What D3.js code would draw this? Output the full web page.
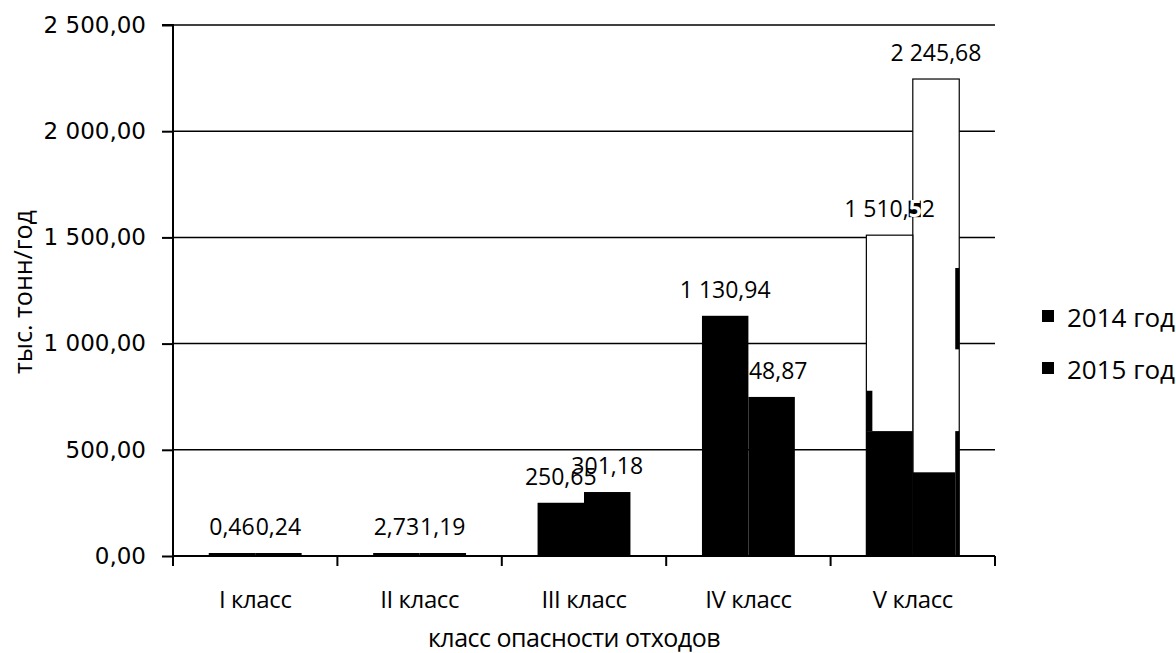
<!DOCTYPE html>
<html>
<head>
<meta charset="utf-8">
<script src="https://cdn.jsdelivr.net/npm/d3@7"></script>
<style>
  html, body { margin: 0; padding: 0; background: #fff; }
  svg { display: block; }
</style>
</head>
<body>
<svg id="chart" width="1176" height="653"></svg>
<script>
// ---------- DATA ----------
const categories = ["I класс", "II класс", "III класс", "IV класс", "V класс"];
const seriesNames = ["2014 год", "2015 год"];
const values2014 = [0.46, 2.73, 250.65, 1130.94, 1510.52];
const values2015 = [0.24, 1.19, 301.18, 748.87, 2245.68];
const yTickValues = [0, 500, 1000, 1500, 2000, 2500];
const xAxisTitle = "класс опасности отходов";
const yAxisTitle = "тыс. тонн/год";

// leftover dark fill fragments visible inside the V-class bars (value ranges)
const remnantSeries = ["2014 год", "2014 год", "2015 год", "2015 год", "2015 год"];
const remnantFrom   = [0, 588, 0, 0, 973];
const remnantTo     = [588, 778, 394, 588, 1356];
const remnantSide   = ["full", "left", "full", "right", "right"];

// ---------- LAYOUT / STYLE ----------
const plot = { left: 173, right: 995, top: 25, bottom: 556 };
const outlinedCategory = "V класс";
const highlight = { category: "V класс", series: "2014 год", charIndex: 6 };
const labelFont = "'Open Sans', sans-serif";
const tickFont = "'DejaVu Sans', Verdana, sans-serif";
const labelSize = 23;

const svg = d3.select("#chart");
const locale = d3.formatLocale({ decimal: ",", thousands: "\u00a0", grouping: [3], currency: ["", ""] });
const fmt = v => locale.format(",.2f")(v).replace(/\u00a0/g, " ");

const x = d3.scaleBand().domain(categories).range([plot.left, plot.right]).padding(0);
const xs = d3.scaleBand().domain(seriesNames).range([0, x.bandwidth()]).paddingInner(0).paddingOuter(0.77);
const y = d3.scaleLinear().domain([0, 2500]).range([plot.bottom, plot.top]);

const data = seriesNames.map((s, si) => ({
  name: s,
  values: categories.map((c, ci) => ({ cat: c, series: s, value: (si === 0 ? values2014 : values2015)[ci] }))
}));

// gridlines
svg.append("g").selectAll("line").data(yTickValues.filter(v => v > 0)).join("line")
  .attr("x1", plot.left).attr("x2", plot.right)
  .attr("y1", d => y(d)).attr("y2", d => y(d))
  .attr("stroke", "#000").attr("stroke-width", 1.5);

// y axis
const yAxis = d3.axisLeft(y).tickValues(yTickValues).tickSize(11).tickPadding(16).tickFormat(fmt);
const yg = svg.append("g").attr("transform", `translate(${plot.left},0)`).call(yAxis);
yg.select(".domain").attr("stroke", "#000").attr("stroke-width", 2).attr("d", `M-11,${y(2500)}H0V${y(0)}`);
yg.selectAll(".tick line").attr("stroke", "#000").attr("stroke-width", 2);
yg.selectAll(".tick text").attr("font-family", tickFont).attr("font-size", 23).attr("fill", "#000");

function drawBars(series) {
  const g = svg.append("g");
  g.selectAll("rect").data(series.values).join("rect")
    .attr("x", d => x(d.cat) + xs(d.series))
    .attr("width", xs.bandwidth())
    .attr("y", d => Math.min(y(d.value), plot.bottom - 3))
    .attr("height", d => Math.max(3, plot.bottom - y(d.value)))
    .attr("fill", d => d.cat === outlinedCategory ? "#fff" : "#000")
    .attr("stroke", "#000")
    .attr("stroke-width", d => d.cat === outlinedCategory ? 1.2 : 0);
  const rem = remnantSeries.map((s, i) => ({ s, from: remnantFrom[i], to: remnantTo[i], side: remnantSide[i] }))
    .filter(r => r.s === series.name);
  g.selectAll("rect.rem").data(rem).join("rect").attr("class", "rem")
    .attr("x", r => {
      const bx = x(outlinedCategory) + xs(r.s);
      return r.side === "right" ? bx + xs.bandwidth() - 4 : bx;
    })
    .attr("width", r => r.side === "full" ? (r.s === seriesNames[1] ? xs.bandwidth() - 4 : xs.bandwidth()) : (r.side === "left" ? 6 : 4))
    .attr("y", r => y(r.to))
    .attr("height", r => y(r.from) - y(r.to))
    .attr("fill", "#000");
}

function drawLabels(series) {
  const g = svg.append("g");
  const t = g.selectAll("text").data(series.values).join("text")
    .attr("x", d => x(d.cat) + xs(d.series) + xs.bandwidth() / 2)
    .attr("y", d => Math.min(y(d.value), plot.bottom - 3) - 18)
    .attr("text-anchor", "middle")
    .attr("font-family", labelFont).attr("font-size", labelSize).attr("fill", "#000");
  t.each(function(d) {
    const s = fmt(d.value);
    const el = d3.select(this);
    if (d.cat === highlight.category && d.series === highlight.series) {
      el.append("tspan").text(s.slice(0, highlight.charIndex));
      el.append("tspan").attr("class", "hl").attr("font-weight", 700)
        .text(s.slice(highlight.charIndex, highlight.charIndex + 1));
      el.append("tspan").text(s.slice(highlight.charIndex + 1));
      const ext = this.getExtentOfChar(highlight.charIndex);
      const baseline = +el.attr("y");
      const dh = labelSize * 0.72;
      g.insert("rect", () => this)
        .attr("x", ext.x).attr("y", baseline - dh)
        .attr("width", ext.width - 1).attr("height", dh)
        .attr("fill", "#000");
      el.select(".hl").attr("fill", "#fff");
    } else {
      el.text(s);
    }
  });
}

// draw order: 2015 bars, 2015 labels, 2014 bars, 2014 labels
drawBars(data[1]);
drawLabels(data[1]);
drawBars(data[0]);
drawLabels(data[0]);

// x axis
const xg = svg.append("g");
xg.append("line").attr("x1", plot.left).attr("x2", plot.right)
  .attr("y1", plot.bottom).attr("y2", plot.bottom).attr("stroke", "#000").attr("stroke-width", 2);
const boundaries = categories.map(c => x(c)).concat([x(categories[categories.length - 1]) + x.bandwidth()]);
xg.selectAll("line.t").data(boundaries).join("line").attr("class", "t")
  .attr("x1", d => d).attr("x2", d => d)
  .attr("y1", plot.bottom).attr("y2", plot.bottom + 10)
  .attr("stroke", "#000").attr("stroke-width", 2);
xg.selectAll("text").data(categories).join("text")
  .attr("x", d => x(d) + x.bandwidth() / 2)
  .attr("y", 608)
  .attr("text-anchor", "middle")
  .attr("font-family", labelFont).attr("font-size", 24).attr("letter-spacing", -0.4)
  .attr("fill", "#000")
  .text(d => d);

// axis titles
svg.append("text").attr("x", 574).attr("y", 647).attr("text-anchor", "middle")
  .attr("font-family", labelFont).attr("font-size", 25).attr("letter-spacing", -0.5)
  .text(xAxisTitle);
svg.append("text").attr("transform", `translate(32,292) rotate(-90)`).attr("text-anchor", "middle")
  .attr("font-family", labelFont).attr("font-size", 25)
  .text(yAxisTitle);

// legend
const legendItems = svg.append("g").selectAll("g").data(seriesNames).join("g")
  .attr("transform", (d, i) => `translate(1042, ${310 + i * 52})`);
legendItems.append("rect").attr("width", 12).attr("height", 12).attr("fill", "#000");
legendItems.append("text").attr("x", 25).attr("y", 17)
  .attr("font-family", labelFont).attr("font-size", 26).attr("fill", "#000")
  .text(d => d);
</script>
</body>
</html>
